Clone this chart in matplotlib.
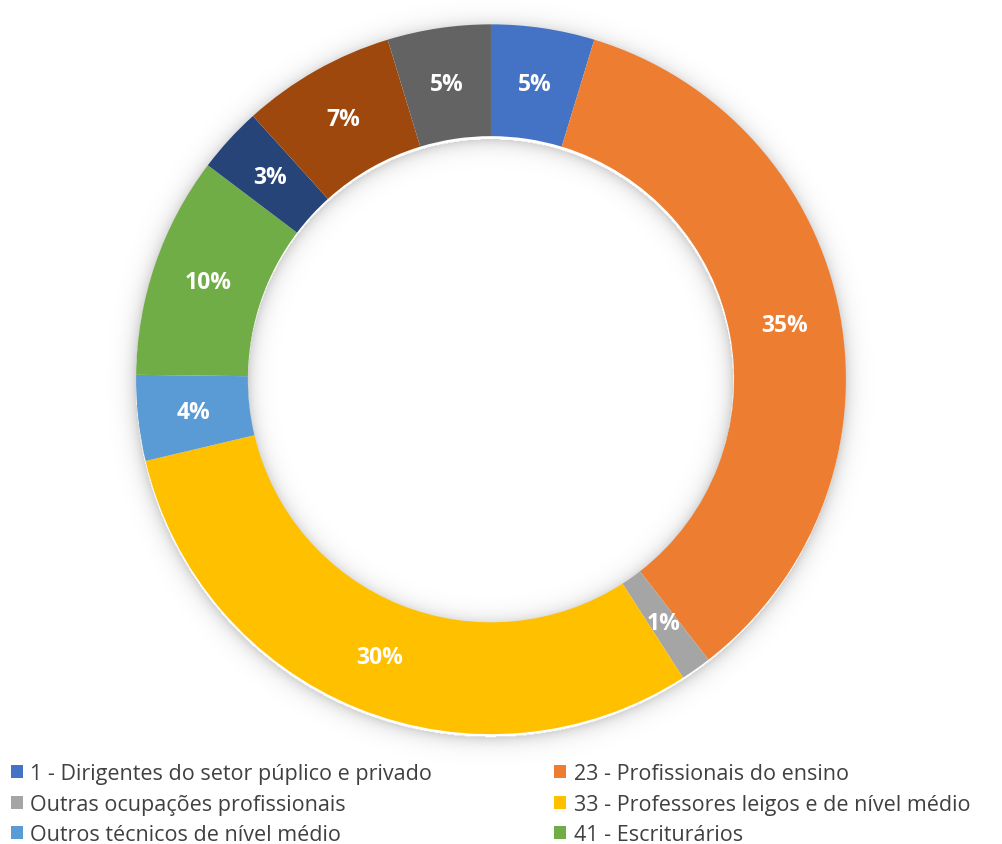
import matplotlib.pyplot as plt
import numpy as np
from matplotlib.patches import Patch

# ocupações (ordem no sentido horário a partir do topo)
categorias = [
    "1 - Dirigentes do setor púplico e privado",
    "23 - Profissionais do ensino",
    "Outras ocupações profissionais",
    "33 - Professores leigos e de nível médio",
    "Outros técnicos de nível médio",
    "41 - Escriturários",
    "Outros 1",
    "Outros 2",
    "Outros 3",
]
percentuais = [4.7, 34.8, 1.4, 30.4, 3.9, 10.1, 3.0, 7.0, 4.7]
cores = ["#4472C4", "#ED7D31", "#A5A5A5", "#FFC000", "#5B9BD5",
         "#70AD47", "#264478", "#9E480E", "#636363"]

fonte = ["Open Sans", "DejaVu Sans"]

fig = plt.figure(figsize=(10.02, 8.45), dpi=100)
ax = fig.add_axes([0.1357, 0.130, 0.7086, 0.840])

largura = 0.315
interno = 1 - largura

# sombra suave em volta do anel
ext = 1.12
g = np.linspace(-ext, ext, 900)
X, Y = np.meshgrid(g, g)
R = np.hypot(X, Y + 0.008)
dist = np.where(R > 1, R - 1, np.where(R < interno, interno - R, np.nan))
alfa = 0.18 * np.exp(-dist / 0.022)
alfa = np.nan_to_num(alfa, nan=0.0)
sombra = np.zeros(X.shape + (4,))
sombra[..., 3] = alfa
ax.imshow(sombra, extent=(-ext, ext, -ext, ext), origin="lower",
          zorder=0, clip_on=False, interpolation="bilinear")

wedges, _, pct = ax.pie(
    percentuais, colors=cores, startangle=90, counterclock=False,
    radius=1.0, wedgeprops=dict(width=largura, edgecolor="none"),
    autopct="%1.0f%%", pctdistance=1 - largura / 2,
)
for w in wedges:
    w.set_zorder(2)
for t in pct:
    t.set_color("white")
    t.set_fontweight("bold")
    t.set_fontsize(16.5)
    t.set_family(fonte)
    t.set_zorder(3)

ax.set_xlim(-1, 1)
ax.set_ylim(-1, 1)
ax.set_aspect("equal")
ax.axis("off")

# legenda em duas colunas, apenas as seis primeiras categorias
ordem = [0, 2, 4, 1, 3, 5]
handles = [Patch(facecolor=cores[i], edgecolor="none") for i in ordem]
labels = [categorias[i] for i in ordem]
fig.legend(handles, labels, ncol=2, loc="upper left",
           bbox_to_anchor=(-0.002, 0.111), frameon=False,
           prop=dict(family=fonte, size=15.5),
           handlelength=0.55, handleheight=0.55, handletextpad=0.35,
           columnspacing=5.67, labelspacing=0.45, borderaxespad=0.2,
           labelcolor="#404040")

fig.savefig("out.png", dpi=100, facecolor="white")
